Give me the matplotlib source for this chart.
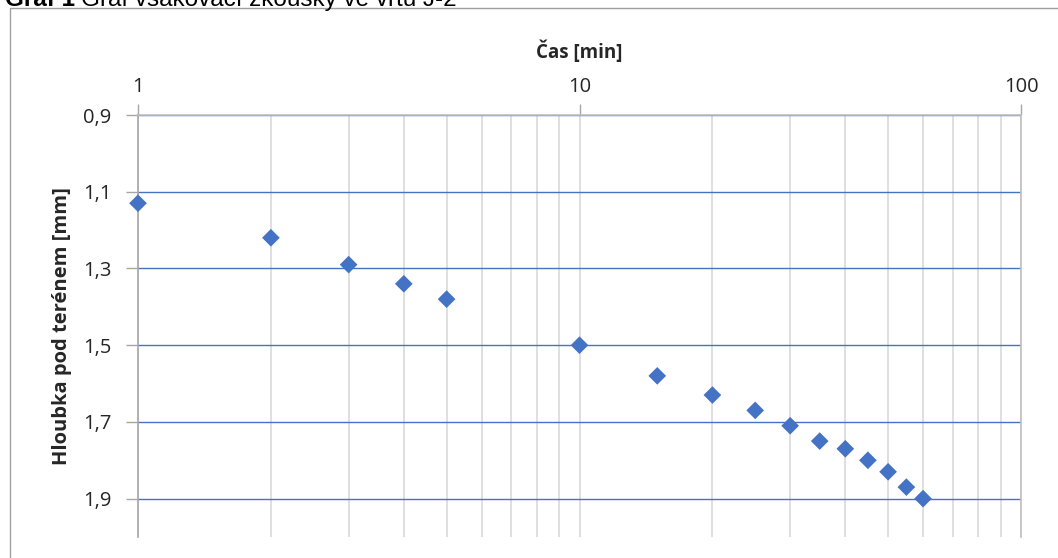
import matplotlib
matplotlib.use('Agg')
import matplotlib.pyplot as plt
from matplotlib.patches import Rectangle
from matplotlib.ticker import LogLocator, FixedLocator
import numpy as np

# data
cas_min = [1, 2, 3, 4, 5, 10, 15, 20, 25, 30, 35, 40, 45, 50, 55, 60]
hloubka = [1.13, 1.22, 1.29, 1.34, 1.38, 1.50, 1.58, 1.63, 1.67, 1.71,
           1.75, 1.77, 1.80, 1.83, 1.87, 1.90]
y_ticks = [0.9, 1.1, 1.3, 1.5, 1.7, 1.9]
y_labels = ['0,9', '1,1', '1,3', '1,5', '1,7', '1,9']

plt.rcParams['font.family'] = ['Open Sans', 'DejaVu Sans']

fig = plt.figure(figsize=(10.58, 5.58), dpi=100)
W, H = 1058, 558

# outer frame (only left and top edges visible)
fig.add_artist(Rectangle((10 / W, -0.2), 1.2, 1.2 - 8 / H,
                         transform=fig.transFigure, fill=False,
                         edgecolor='#a0a0a0', linewidth=1.0))

# caption cut off at the top
t1 = fig.text(5 / W, 1 - 6 / H, 'Graf 1', fontweight='bold', fontsize=17.5,
              family='Liberation Sans', va='baseline', ha='left')
fig.canvas.draw()
bb = t1.get_window_extent()
fig.text(bb.x1 / W + 6 / W, 1 - 6 / H, 'Graf vsakovací zkoušky ve vrtu J-2',
         fontsize=17.5, family='Liberation Sans', va='baseline', ha='left')

ax = fig.add_axes([138 / W, 1 - 537 / H, 883 / W, 422 / H])
ax.set_xscale('log')
ax.set_xlim(1, 100)
ax.set_ylim(2.0, 0.9)

ax.scatter(cas_min, hloubka, marker='D', s=9 ** 2, color='#4472c4',
           edgecolors='none', zorder=3, clip_on=False)

# axis on top
ax.xaxis.tick_top()
ax.xaxis.set_label_position('top')
ax.xaxis.set_major_locator(FixedLocator([1, 10, 100]))
ax.set_xticklabels(['1', '10', '100'])
ax.xaxis.set_minor_locator(LogLocator(base=10, subs=np.arange(2, 10)))
ax.xaxis.set_minor_formatter(plt.NullFormatter())
ax.tick_params(axis='x', which='major', direction='out', length=8, width=1,
               color='#a6a6a6', pad=5, labelsize=14.5, labelcolor='#262626')
ax.tick_params(axis='x', which='minor', length=0)

ax.set_yticks(y_ticks)
ax.set_yticklabels(y_labels)
ax.tick_params(axis='y', direction='out', length=9, width=1,
               color='#a6a6a6', pad=10, labelsize=14.5, labelcolor='#262626')

ax.grid(True, axis='x', which='both', color='#d9d9d9', linewidth=1.2)
ax.grid(True, axis='y', which='major', color='#4472c4', linewidth=1.0)
ax.set_axisbelow(True)

ax.spines['bottom'].set_visible(False)
ax.spines['top'].set_color('#bfbfbf')
ax.spines['left'].set_color('#a6a6a6')
ax.spines['right'].set_color('#bfbfbf')
for s in ax.spines.values():
    s.set_linewidth(1.2)

ax.set_xlabel('Čas [min]', fontsize=13.5, fontweight='bold', labelpad=14,
              color='#262626')
ax.set_ylabel('Hloubka pod terénem [mm]', fontsize=14.5, fontweight='bold',
              labelpad=8, color='#262626')

fig.savefig('out.png', dpi=100)
